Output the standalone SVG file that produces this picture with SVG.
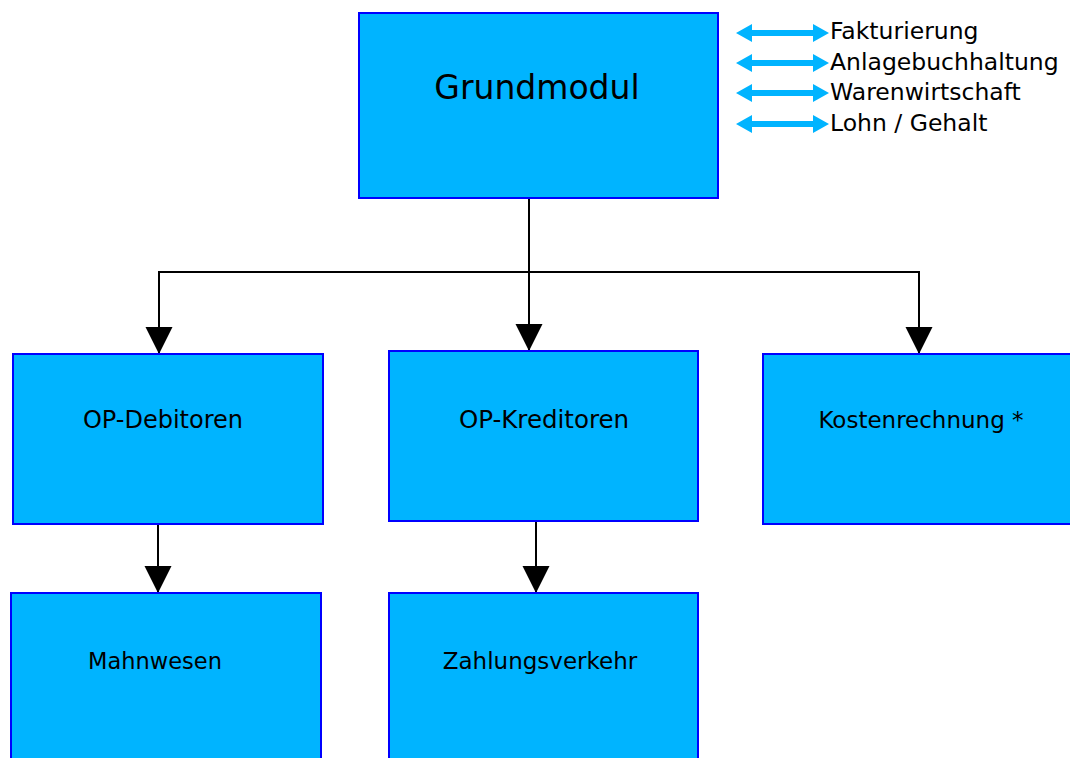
<svg xmlns="http://www.w3.org/2000/svg" width="1070" height="758" viewBox="0 0 1070 758">
<defs>
<style>
.box{fill:#00B4FF;stroke:#0000FF;stroke-width:2}
.t{font-family:"DejaVu Sans","Liberation Sans",sans-serif;fill:#000;text-anchor:middle}
.lbl{font-family:"DejaVu Sans","Liberation Sans",sans-serif;fill:#000;font-size:23.5px}
.con{fill:none;stroke:#000;stroke-width:2}
.dbl{fill:#00B4FF}
</style>
<marker id="ah" markerWidth="27" markerHeight="28" refX="27" refY="13.5" orient="auto" markerUnits="userSpaceOnUse">
<path d="M0,0 L27,13.5 L0,27 Z" fill="#000"/>
</marker>
</defs>
<rect width="1070" height="758" fill="#fff"/>
<g id="connectors">
<polyline class="con" points="529,198 529,272"/>
<polyline class="con" points="159,272 919,272"/>
<line class="con" x1="159" y1="271" x2="159" y2="354" marker-end="url(#ah)"/>
<line class="con" x1="529" y1="271" x2="529" y2="351" marker-end="url(#ah)"/>
<line class="con" x1="919" y1="271" x2="919" y2="354" marker-end="url(#ah)"/>
<line class="con" x1="158" y1="524" x2="158" y2="593" marker-end="url(#ah)"/>
<line class="con" x1="536" y1="521" x2="536" y2="593" marker-end="url(#ah)"/>
</g>
<g id="grundmodul">
<rect class="box" x="359" y="13" width="359" height="185"/>
<text class="t" x="537" y="99" font-size="33">Grundmodul</text>
</g>
<g id="op-debitoren">
<rect class="box" x="13" y="354" width="310" height="170"/>
<text class="t" x="163" y="428" font-size="24">OP-Debitoren</text>
</g>
<g id="op-kreditoren">
<rect class="box" x="389" y="351" width="309" height="170"/>
<text class="t" x="544" y="428" font-size="24.5">OP-Kreditoren</text>
</g>
<g id="kostenrechnung">
<rect class="box" x="763" y="354" width="320" height="170"/>
<text class="t" x="921" y="428" font-size="23">Kostenrechnung *</text>
</g>
<g id="mahnwesen">
<rect class="box" x="11" y="593" width="310" height="180"/>
<text class="t" x="155" y="669" font-size="22.5">Mahnwesen</text>
</g>
<g id="zahlungsverkehr">
<rect class="box" x="389" y="593" width="309" height="180"/>
<text class="t" x="540" y="669" font-size="23">Zahlungsverkehr</text>
</g>
<g id="links">
<path class="dbl" d="M736,33 L752,24 L752,30 L813,30 L813,24 L829,33 L813,42 L813,36 L752,36 L752,42 Z"/>
<path class="dbl" d="M736,63 L752,54 L752,60 L813,60 L813,54 L829,63 L813,72 L813,66 L752,66 L752,72 Z"/>
<path class="dbl" d="M736,93 L752,84 L752,90 L813,90 L813,84 L829,93 L813,102 L813,96 L752,96 L752,102 Z"/>
<path class="dbl" d="M736,124 L752,115 L752,121 L813,121 L813,115 L829,124 L813,133 L813,127 L752,127 L752,133 Z"/>
<text class="lbl" x="830" y="39">Fakturierung</text>
<text class="lbl" x="830" y="70">Anlagebuchhaltung</text>
<text class="lbl" x="830" y="100">Warenwirtschaft</text>
<text class="lbl" x="830" y="131">Lohn / Gehalt</text>
</g>
</svg>
